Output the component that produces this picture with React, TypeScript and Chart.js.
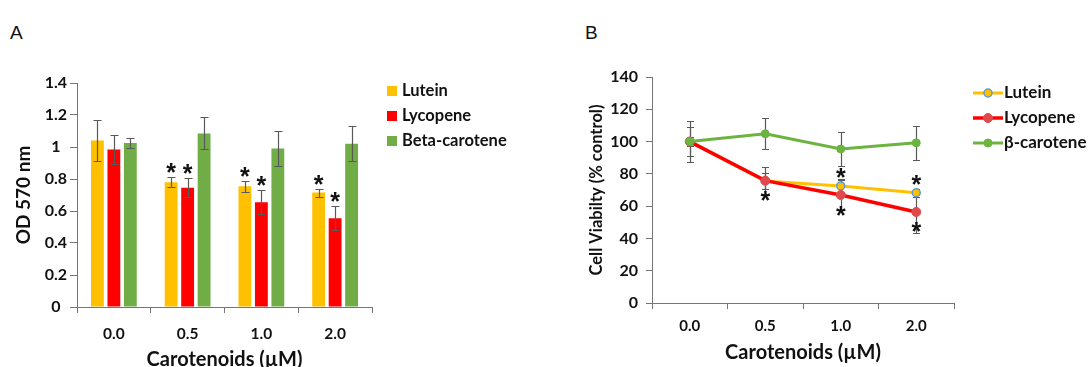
import React, { useEffect, useRef } from "react";
import { Chart, registerables } from "chart.js";

Chart.register(...registerables);

// ---------- Data ----------
const categories = ["0.0", "0.5", "1.0", "2.0"];

// Panel A (OD 570 nm)
const seriesNamesA = ["Lutein", "Lycopene", "Beta-carotene"];
const luteinOD = [1.04, 0.78, 0.755, 0.715];
const lycopeneOD = [0.985, 0.745, 0.655, 0.555];
const betaOD = [1.025, 1.085, 0.99, 1.02];
const luteinODErr = [0.13, 0.03, 0.035, 0.025];
const lycopeneODErr = [0.09, 0.06, 0.075, 0.075];
const betaODErr = [0.03, 0.1, 0.11, 0.11];
const luteinODSig = [false, true, true, true];
const lycopeneODSig = [false, true, true, true];
const betaODSig = [false, false, false, false];
const yTicksA = [0, 0.2, 0.4, 0.6, 0.8, 1, 1.2, 1.4];
const yTickLabelsA = ["0", "0.2", "0.4", "0.6", "0.8", "1", "1.2", "1.4"];

// Panel B (Cell viability, % control)
const seriesNamesB = ["Lutein", "Lycopene", "β-carotene"];
const luteinViab = [100, 75.6, 72.5, 68.3];
const lycopeneViab = [100, 75.8, 66.9, 56.4];
const betaViab = [100, 104.8, 95.4, 99.2];
const luteinViabErr = [12.5, 5, 4.5, 2.5];
const lycopeneViabErr = [9, 8.5, 9, 13];
const betaViabErr = [3, 9.5, 10.5, 10.5];
const luteinViabSigAbove = [false, false, true, true];
const lycopeneViabSigBelow = [false, true, true, true];
const yTicksB = [0, 20, 40, 60, 80, 100, 120, 140];

// ---------- Styles ----------
const FONT = "Lato, 'Open Sans', sans-serif";
const AXIS_GRAY = "#767676";
const ERR_COLOR = "#595959";
const TEXT = "#111111";
const YELLOW = "#FFC000";
const RED = "#FF0000";
const GREEN_BAR = "#70AD47";
const GREEN_LINE = "#6DB33F";

function snap(v: number) {
  return Math.round(v) + 0.5;
}

function drawErrorBars(chart: any, errors: number[][], cap: number) {
  const ctx = chart.ctx;
  const ys = chart.scales.y;
  ctx.save();
  ctx.strokeStyle = ERR_COLOR;
  ctx.lineWidth = 1.2;
  chart.data.datasets.forEach((ds: any, di: number) => {
    const meta = chart.getDatasetMeta(di);
    meta.data.forEach((el: any, i: number) => {
      const v = ds.data[i] as number;
      const e = errors[di][i];
      const x = snap(el.x);
      const yt = snap(ys.getPixelForValue(v + e));
      const yb = snap(ys.getPixelForValue(v - e));
      ctx.beginPath();
      ctx.moveTo(x, yt);
      ctx.lineTo(x, yb);
      ctx.moveTo(x - cap, yt);
      ctx.lineTo(x + cap, yt);
      ctx.moveTo(x - cap, yb);
      ctx.lineTo(x + cap, yb);
      ctx.stroke();
    });
  });
  ctx.restore();
}

function drawStar(ctx: CanvasRenderingContext2D, x: number, yCenter: number) {
  const size = 25;
  ctx.save();
  ctx.font = `bold ${size}px 'Liberation Sans', Arial, sans-serif`;
  ctx.textAlign = "center";
  ctx.textBaseline = "alphabetic";
  ctx.fillStyle = "#111";
  ctx.fillText("*", x, yCenter + size * 0.58);
  ctx.restore();
}

export default function App() {
  const refA = useRef<HTMLCanvasElement | null>(null);
  const refB = useRef<HTMLCanvasElement | null>(null);

  useEffect(() => {
    if (!refA.current || !refB.current) return;

    const errorsA = [luteinODErr, lycopeneODErr, betaODErr];
    const sigA = [luteinODSig, lycopeneODSig, betaODSig];

    const pluginA = {
      id: "panelA",
      afterDatasetsDraw(chart: any) {
        drawErrorBars(chart, errorsA, 4);
        const ys = chart.scales.y;
        chart.data.datasets.forEach((ds: any, di: number) => {
          const meta = chart.getDatasetMeta(di);
          meta.data.forEach((el: any, i: number) => {
            if (!sigA[di][i]) return;
            const top = ys.getPixelForValue((ds.data[i] as number) + errorsA[di][i]);
            drawStar(chart.ctx, el.x, top - 10.5);
          });
        });
      },
      afterDraw(chart: any) {
        const { ctx, chartArea } = chart;
        ctx.save();
        ctx.font = `bold 16.5px ${FONT}`;
        ctx.textBaseline = "middle";
        ctx.textAlign = "left";
        chart.data.datasets.forEach((ds: any, i: number) => {
          const yy = chartArea.top + 8 + i * 25;
          const xx = chartArea.right + 15;
          ctx.fillStyle = ds.backgroundColor;
          ctx.fillRect(xx, yy - 5, 10, 10);
          ctx.fillStyle = TEXT;
          ctx.fillText(ds.label, xx + 15, yy);
        });
        ctx.restore();
      },
    };

    const chartA = new Chart(refA.current, {
      type: "bar",
      data: {
        labels: categories,
        datasets: [
          { label: seriesNamesA[0], data: luteinOD, backgroundColor: YELLOW },
          { label: seriesNamesA[1], data: lycopeneOD, backgroundColor: RED },
          { label: seriesNamesA[2], data: betaOD, backgroundColor: GREEN_BAR },
        ],
      },
      options: {
        responsive: false,
        animation: false,
        devicePixelRatio: 1,
        layout: { padding: { left: 0, top: 83, right: 188, bottom: 0 } },
        datasets: { bar: { categoryPercentage: 0.67, barPercentage: 0.78 } },
        plugins: { legend: { display: false }, tooltip: { enabled: false } },
        scales: {
          x: {
            grid: {
              display: true,
              drawOnChartArea: false,
              drawTicks: true,
              tickLength: 6,
              color: AXIS_GRAY,
              offset: true,
            },
            border: { display: true, color: AXIS_GRAY, width: 1 },
            ticks: {
              color: TEXT,
              font: { family: FONT, size: 15.5, weight: "bold" },
              padding: 12,
              maxRotation: 0,
            },
            title: {
              display: true,
              text: "Carotenoids (µM)",
              color: TEXT,
              font: { family: FONT, size: 20, weight: "bold", lineHeight: 1 },
              padding: { top: 0, bottom: -3 },
            },
            afterFit(scale: any) {
              scale.height = 60;
            },
          },
          y: {
            min: 0,
            max: 1.4,
            afterBuildTicks(scale: any) {
              scale.ticks = yTicksA.map((v) => ({ value: v }));
            },
            grid: {
              display: true,
              drawOnChartArea: false,
              drawTicks: true,
              tickLength: 7,
              color: AXIS_GRAY,
            },
            border: { display: true, color: AXIS_GRAY, width: 1 },
            ticks: {
              color: TEXT,
              font: { family: FONT, size: 16, weight: "bold" },
              padding: 3,
              crossAlign: "center",
              callback: (_v: any, i: number) => yTickLabelsA[i],
            },
            title: {
              display: true,
              text: "OD 570 nm",
              color: TEXT,
              font: { family: FONT, size: 19, weight: "bold" },
              padding: { top: 12, bottom: 0 },
            },
            afterFit(scale: any) {
              scale.width = 77;
            },
          },
        },
      },
      plugins: [pluginA],
    } as any);

    const errorsB = [luteinViabErr, lycopeneViabErr, betaViabErr];

    const pluginB = {
      id: "panelB",
      beforeDatasetsDraw(chart: any) {
        drawErrorBars(chart, errorsB, 3.5);
      },
      afterDatasetsDraw(chart: any) {
        const lut = chart.getDatasetMeta(0);
        const lyc = chart.getDatasetMeta(1);
        lut.data.forEach((el: any, i: number) => {
          if (luteinViabSigAbove[i]) drawStar(chart.ctx, el.x, el.y - 14);
        });
        lyc.data.forEach((el: any, i: number) => {
          if (lycopeneViabSigBelow[i]) drawStar(chart.ctx, el.x, el.y + 14);
        });
      },
      afterDraw(chart: any) {
        const { ctx, chartArea } = chart;
        ctx.save();
        ctx.font = `bold 17px ${FONT}`;
        ctx.textBaseline = "middle";
        ctx.textAlign = "left";
        chart.data.datasets.forEach((ds: any, i: number) => {
          const yy = chartArea.top + 16 + i * 25;
          const x0 = chartArea.right + 19;
          const x1 = x0 + 30;
          ctx.strokeStyle = ds.borderColor;
          ctx.lineWidth = ds.borderWidth;
          ctx.beginPath();
          ctx.moveTo(x0, yy);
          ctx.lineTo(x1, yy);
          ctx.stroke();
          ctx.beginPath();
          ctx.arc((x0 + x1) / 2, yy, ds.pointRadius, 0, Math.PI * 2);
          ctx.fillStyle = ds.pointBackgroundColor;
          ctx.fill();
          ctx.lineWidth = ds.pointBorderWidth;
          ctx.strokeStyle = ds.pointBorderColor;
          ctx.stroke();
          ctx.fillStyle = TEXT;
          ctx.fillText(ds.label, x1 + 1, yy);
        });
        ctx.restore();
      },
    };

    const chartB = new Chart(refB.current, {
      type: "line",
      data: {
        labels: categories,
        datasets: [
          {
            label: seriesNamesB[0],
            data: luteinViab,
            borderColor: YELLOW,
            borderWidth: 3,
            pointRadius: 4,
            pointBackgroundColor: YELLOW,
            pointBorderColor: "#5B9BD5",
            pointBorderWidth: 1.5,
            order: 2,
          },
          {
            label: seriesNamesB[1],
            data: lycopeneViab,
            borderColor: RED,
            borderWidth: 3.5,
            pointRadius: 4.5,
            pointBackgroundColor: "#E04A4A",
            pointBorderColor: "#E04A4A",
            pointBorderWidth: 1,
            order: 1,
          },
          {
            label: seriesNamesB[2],
            data: betaViab,
            borderColor: GREEN_LINE,
            borderWidth: 3,
            pointRadius: 4,
            pointBackgroundColor: GREEN_LINE,
            pointBorderColor: GREEN_LINE,
            pointBorderWidth: 1,
            order: 0,
          },
        ],
      },
      options: {
        responsive: false,
        animation: false,
        devicePixelRatio: 1,
        layout: { padding: { left: 0, top: 77, right: 135, bottom: 0 } },
        plugins: { legend: { display: false }, tooltip: { enabled: false } },
        scales: {
          x: {
            offset: true,
            grid: {
              display: true,
              drawOnChartArea: false,
              drawTicks: true,
              tickLength: 6,
              color: AXIS_GRAY,
              offset: true,
            },
            border: { display: true, color: AXIS_GRAY, width: 1 },
            ticks: {
              color: TEXT,
              font: { family: FONT, size: 15, weight: "bold" },
              padding: 8,
              maxRotation: 0,
            },
            title: {
              display: true,
              text: "Carotenoids (µM)",
              color: TEXT,
              font: { family: FONT, size: 20, weight: "bold", lineHeight: 1 },
              padding: { top: 0, bottom: 4 },
            },
            afterFit(scale: any) {
              scale.height = 64;
            },
          },
          y: {
            min: 0,
            max: 140,
            afterBuildTicks(scale: any) {
              scale.ticks = yTicksB.map((v) => ({ value: v }));
            },
            grid: {
              display: true,
              drawOnChartArea: false,
              drawTicks: true,
              tickLength: 6,
              color: AXIS_GRAY,
            },
            border: { display: true, color: AXIS_GRAY, width: 1 },
            ticks: {
              color: TEXT,
              font: { family: FONT, size: 16, weight: "bold" },
              padding: 8,
              callback: (v: any) => String(v),
            },
            title: {
              display: true,
              text: "Cell Viabilty (% control)",
              color: TEXT,
              font: { family: FONT, size: 16.5, weight: "bold" },
              padding: { top: 27, bottom: 0 },
            },
            afterFit(scale: any) {
              scale.width = 92;
            },
          },
        },
      },
      plugins: [pluginB],
    } as any);

    return () => {
      chartA.destroy();
      chartB.destroy();
    };
  }, []);

  const letterStyle: React.CSSProperties = {
    position: "absolute",
    top: 22,
    fontFamily: "'Liberation Sans', Arial, sans-serif",
    fontSize: 19,
    lineHeight: "22px",
    color: "#111",
  };

  return (
    <div
      style={{
        position: "absolute",
        left: 0,
        top: 0,
        width: 1089,
        height: 367,
        background: "#ffffff",
        overflow: "hidden",
      }}
    >
      <div style={{ ...letterStyle, left: 10 }}>A</div>
      <div style={{ ...letterStyle, left: 585 }}>B</div>
      <canvas
        ref={refA}
        width={560}
        height={367}
        style={{ position: "absolute", left: 0, top: 0, width: 560, height: 367 }}
      />
      <canvas
        ref={refB}
        width={529}
        height={367}
        style={{ position: "absolute", left: 560, top: 0, width: 529, height: 367 }}
      />
    </div>
  );
}
